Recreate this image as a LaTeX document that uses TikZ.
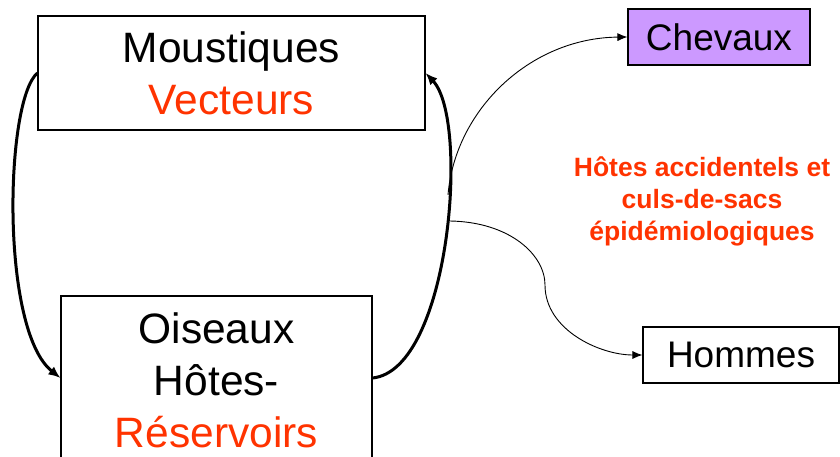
\documentclass[tikz,border=0pt]{standalone}
\usepackage{fontspec}
\setmainfont{Liberation Sans}
\usetikzlibrary{arrows.meta}
\definecolor{rouge}{HTML}{FF3300}
\definecolor{lilas}{HTML}{CC99FF}
\begin{document}
\begin{tikzpicture}[x=1pt,y=-1pt,
  box/.style={draw=black, line width=1.1pt, inner sep=0pt},
  bigtext/.style={font=\fontsize{42.5}{52}\selectfont, align=center},
  midtext/.style={font=\fontsize{37}{44}\selectfont},
  thickarrow/.style={line width=3pt, -{Latex[length=12pt,width=10pt]}},
  thinarrow/.style={line width=0.9pt, -{Latex[length=10pt,width=8pt]}}]
\useasboundingbox (0,0) rectangle (840,457);
\clip (0,0) rectangle (840,457);
\fill[white] (0,0) rectangle (840,457);

\node[box, bigtext, minimum width=387pt, minimum height=114pt] (moustiques) at (231.5,73)
  {Moustiques\\\textcolor{rouge}{Vecteurs}};
\node[box, minimum width=311pt, minimum height=164pt] (oiseaux) at (216.5,378) {};
\node[bigtext, anchor=base] (oiseauxlbl) at (216.5,447)
  {Oiseaux\\Hôtes-\\\textcolor{rouge}{Réservoirs}};
\node[box, midtext, fill=lilas, minimum width=182pt, minimum height=56pt] (chevaux) at (719,37) {Chevaux};
\node[box, midtext, minimum width=196pt, minimum height=56pt] (hommes) at (741,355) {Hommes};
\node[font=\fontsize{26.5}{31.5}\selectfont\bfseries, text=rouge, align=center, anchor=base] (hotes) at (702,240)
  {Hôtes accidentels et\\culs-de-sacs\\épidémiologiques};

\draw[thickarrow] (moustiques.west) .. controls (5,100) and (0,330) .. (oiseaux.west);
\draw[thickarrow] (oiseaux.east) .. controls (450,370) and (470,120) .. (moustiques.east);

\coordinate (s1) at (448,195);
\coordinate (s2) at (450,221);
\draw[thinarrow] (s1) .. controls (455,110) and (530,38) .. (chevaux.west);
\draw[thinarrow] (s2) .. controls (510,222) and (545,255) .. (545,285)
  .. controls (545,330) and (600,355) .. (hommes.west);
\end{tikzpicture}
\end{document}
